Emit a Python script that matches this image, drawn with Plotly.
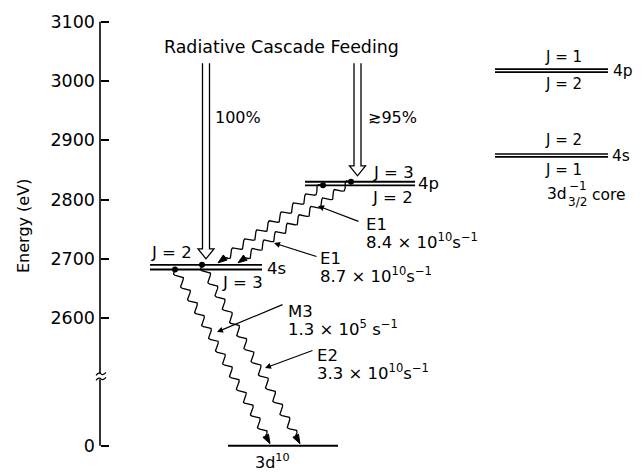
import numpy as np
import plotly.graph_objects as go

# ---------------- data ----------------
tick_energies = [0, 2600, 2700, 2800, 2900, 3000, 3100]
tick_labels = ["0", "2600", "2700", "2800", "2900", "3000", "3100"]

level_names = ["4p J=3", "4p J=2", "4s J=2", "4s J=3", "3d10"]
level_energy = [2830, 2824, 2690, 2682, 0]          # eV

# inset (ordering for the 3d3/2 core) - schematic energies
inset_names = ["4p J=1", "4p J=2", "4s J=2", "4s J=1"]
inset_energy = [3020, 3015, 2877, 2872]

trans_from = ["4p J=2", "4p J=3", "4s J=3", "4s J=2"]
trans_to = ["4s J=2", "4s J=2", "3d10", "3d10"]
trans_type = ["E1", "E1", "M3", "E2"]
trans_rate = ["8.4 × 10<sup>10</sup>s<sup>−1</sup>", "8.7 × 10<sup>10</sup>s<sup>−1</sup>",
              "1.3 × 10<sup>5</sup> s<sup>−1</sup>", "3.3 × 10<sup>10</sup>s<sup>−1</sup>"]

feed_targets = ["4s J=2", "4p J=3"]
feed_labels = ["100%", "≳95%"]
feed_top_energy = 3030

# ---------------- layout helpers (positions only) ----------------
W, H = 644, 472
OFF = 8               # page body margin
PX_PER_EV = 0.593
Y_REF_PX, Y_REF_E = 81, 3000
ZERO_DISPLAY = 2385   # where 0 eV sits on the broken axis
BREAK_DISPLAY = 2502

def disp(e):
    return e if e >= 2500 else ZERO_DISPLAY + e

def e2px(d):
    return Y_REF_PX - (d - Y_REF_E) * PX_PER_EV

def px2e(py):
    return Y_REF_E - (py - Y_REF_PX) / PX_PER_EV

lev = dict(zip(level_names, level_energy))
ins = dict(zip(inset_names, inset_energy))

level_xspan = {"4p J=3": (305, 415), "4p J=2": (305, 415),
               "4s J=2": (150, 262), "4s J=3": (150, 262), "3d10": (228, 338)}
inset_xspan = (495, 608)
trans_x = [(323, 218), (351, 238), (175, 270), (202, 300)]
feed_x = [206, 357.5]
AXIS_X = 100
FONT = "DejaVu Sans"

fig = go.Figure()

def line(xs, ys, width=1.6):
    fig.add_trace(go.Scatter(x=xs, y=ys, mode="lines", hoverinfo="skip",
                             line=dict(color="black", width=width)))

# energy levels
for name in level_names:
    x0, x1 = level_xspan[name]
    y = disp(lev[name])
    line([x0, x1], [y, y], 1.9)
for name in inset_names:
    y = ins[name]
    line(list(inset_xspan), [y, y], 1.6)

# wavy transitions
def wavy(x0, y0, x1, y1, wl=14.5, amp=3.4, head=9.0, hw=3.2):
    dx, dy = x1 - x0, y1 - y0
    L = np.hypot(dx, dy)
    ux, uy = dx / L, dy / L
    nx, ny = -uy, ux
    Lw = L - head
    n = max(1, round(Lw / wl))
    s = np.linspace(0, Lw, 500)
    off = amp * np.sin(2 * np.pi * s * n / Lw)
    xs = x0 + ux * s + nx * off
    ys = y0 + uy * s + ny * off
    bx, by = x1 - ux * head, y1 - uy * head
    tri = [(x1, y1), (bx + nx * hw, by + ny * hw), (bx - nx * hw, by - ny * hw)]
    return xs, ys, tri

dots_x, dots_y = [], []
for (xa, xb), f, t in zip(trans_x, trans_from, trans_to):
    ya = e2px(disp(lev[f]))
    yb = e2px(disp(lev[t])) - 2
    xs, ys, tri = wavy(xa, ya, xb, yb)
    line(xs, [px2e(v) for v in ys], 1.3)
    path = "M " + " L ".join(f"{px},{px2e(py)}" for px, py in tri) + " Z"
    fig.add_shape(type="path", path=path, xref="x", yref="y",
                  fillcolor="black", line=dict(color="black", width=1))
    dots_x.append(xa)
    dots_y.append(disp(lev[f]))

fig.add_trace(go.Scatter(x=dots_x, y=dots_y, mode="markers", hoverinfo="skip",
                         marker=dict(color="black", size=6)))

# hollow feeding arrows
for xc, tgt in zip(feed_x, feed_targets):
    top = e2px(feed_top_energy)
    tip = e2px(disp(lev[tgt])) - 6
    base = tip - 10
    sw, hw = 3.5, 8
    pts = [(xc - sw, top), (xc - sw, base), (xc - hw, base), (xc, tip),
           (xc + hw, base), (xc + sw, base), (xc + sw, top)]
    path = "M " + " L ".join(f"{px},{px2e(py)}" for px, py in pts)
    fig.add_shape(type="path", path=path, xref="x", yref="y",
                  line=dict(color="black", width=1.3))

# axis line with break
fig.add_shape(type="line", xref="x", yref="y", x0=AXIS_X, x1=AXIS_X,
              y0=3100, y1=px2e(e2px(BREAK_DISPLAY) - 3), line=dict(color="black", width=1.6))
fig.add_shape(type="line", xref="x", yref="y", x0=AXIS_X, x1=AXIS_X,
              y0=px2e(e2px(BREAK_DISPLAY) + 3), y1=disp(0), line=dict(color="black", width=1.6))
for dyp in (-2.5, 2.5):
    yc = e2px(BREAK_DISPLAY) + dyp
    path = (f"M {AXIS_X-4},{px2e(yc+1.5)} Q {AXIS_X-1},{px2e(yc-2)} {AXIS_X+1},{px2e(yc)} "
            f"Q {AXIS_X+3},{px2e(yc+2)} {AXIS_X+6},{px2e(yc-1.5)}")
    fig.add_shape(type="path", path=path, xref="x", yref="y",
                  line=dict(color="black", width=1.2))

# text annotations
def text(x, ypx, s, size=17, xanchor="left"):
    fig.add_annotation(x=x, y=px2e(ypx), text=s, showarrow=False, xref="x", yref="y",
                       xanchor=xanchor, yanchor="middle",
                       font=dict(family=FONT, size=size, color="black"))

text(162, 47, "Radiative Cascade Feeding", 17.4)
text(213, 117, feed_labels[0], 16)
text(366, 117, feed_labels[1], 16)
text(371, 172, "J = 3", 16.5)
text(416, 183, "4p", 16.5)
text(370, 197, "J = 2", 16.5)
text(149, 252, "J = 2", 16.5)
text(220, 282, "J = 3", 16.5)
text(265, 268, "4s", 16.5)
text(272, 461, "3d<sup>10</sup>", 16, "center")

label_pos = [(364, 224), (318, 258), (286, 311), (315, 355)]
for (lx, ly), tt, rr in zip(label_pos, trans_type, trans_rate):
    text(lx, ly, tt, 16.5)
    text(lx, ly + 17, rr, 16.5)

# pointer lines
pointers = [((360, 222), (318, 206)), ((318, 257), (274, 243)),
            ((284, 304), (217, 332)), ((314, 350), (265, 368))]
for (tx, ty), (hx, hy) in pointers:
    fig.add_annotation(x=hx, y=px2e(hy), ax=tx, ay=px2e(ty), xref="x", yref="y",
                       axref="x", ayref="y", text="", showarrow=True,
                       arrowhead=2, arrowsize=1, arrowwidth=1.2, arrowcolor="black",
                       standoff=0, startstandoff=0)

# inset labels
text(563, 57, "J = 1", 15, "center")
text(563, 84, "J = 2", 15, "center")
text(611, 71, "4p", 15.5)
text(563, 140, "J = 2", 15, "center")
text(563, 170, "J = 1", 15, "center")
text(610, 156, "4s", 15.5)
text(545, 194, "3d", 15.5)
text(567, 186, "−1", 12)
text(566, 202, "3/2", 12)
text(590, 195, "core", 15.5)

# axis title
fig.add_annotation(x=23, y=px2e(226), text="Energy (eV)", showarrow=False, textangle=-90,
                   xref="x", yref="y", font=dict(family=FONT, size=16, color="black"))

fig.update_layout(
    width=W, height=H, margin=dict(l=0, r=0, t=0, b=0),
    paper_bgcolor="white", plot_bgcolor="white", showlegend=False,
    xaxis=dict(range=[OFF, W + OFF], visible=False, fixedrange=True),
    yaxis=dict(range=[px2e(H + OFF), px2e(OFF)], anchor="free",
               position=(AXIS_X - OFF) / W,
               showline=False, showgrid=False, zeroline=False,
               ticks="inside", ticklen=8, tickwidth=1.5, tickcolor="black",
               tickvals=[disp(v) for v in tick_energies], ticktext=tick_labels,
               tickfont=dict(family=FONT, size=17.5, color="black"),
               ticklabelstandoff=5, fixedrange=True),
)

fig.write_html("out.html")
